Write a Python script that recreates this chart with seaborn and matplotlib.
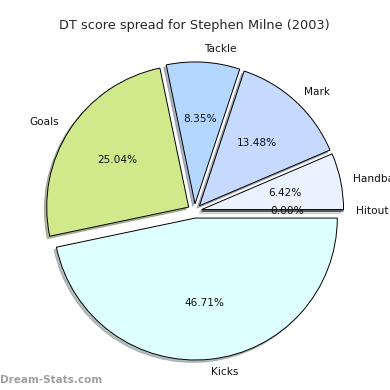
import matplotlib
matplotlib.use("Agg")
import matplotlib.pyplot as plt
import seaborn as sns

# DT score shares, counter-clockwise from 3 o'clock
categories = ["Hitout", "Handball", "Mark", "Tackle", "Goals", "Kicks"]
shares = [0.00, 6.42, 13.48, 8.35, 25.04, 46.71]
colours = ["#ffffff", "#ebf2ff", "#c6d9ff", "#b3d7ff", "#d0ea8b", "#ddffff"]

sns.set_theme(style="white")
plt.rcParams["font.family"] = ["DejaVu Sans"]

fig = plt.figure(figsize=(3.9, 3.9), dpi=100)
ax = fig.add_axes([0.044, 0.004, 0.91, 0.91])
ax.pie(shares, labels=categories, colors=colours, explode=[0.05] * len(shares),
       autopct="%.2f%%", startangle=0, counterclock=True, labeldistance=1.09,
       shadow={"ox": -0.012, "oy": -0.012, "shade": 0.5},
       wedgeprops={"edgecolor": "black", "linewidth": 0.7},
       textprops={"fontsize": 7.6, "color": "#111111"})
ax.set_aspect("equal")
ax.set_title("DT score spread for Stephen Milne (2003)", fontsize=9.3, pad=3)
fig.text(0.0, 0.012, "Dream-Stats.com", fontsize=7.5, color="#a0a0a0",
         fontweight="bold", ha="left", va="bottom")
fig.savefig("out.png", dpi=100)
plt.close(fig)
